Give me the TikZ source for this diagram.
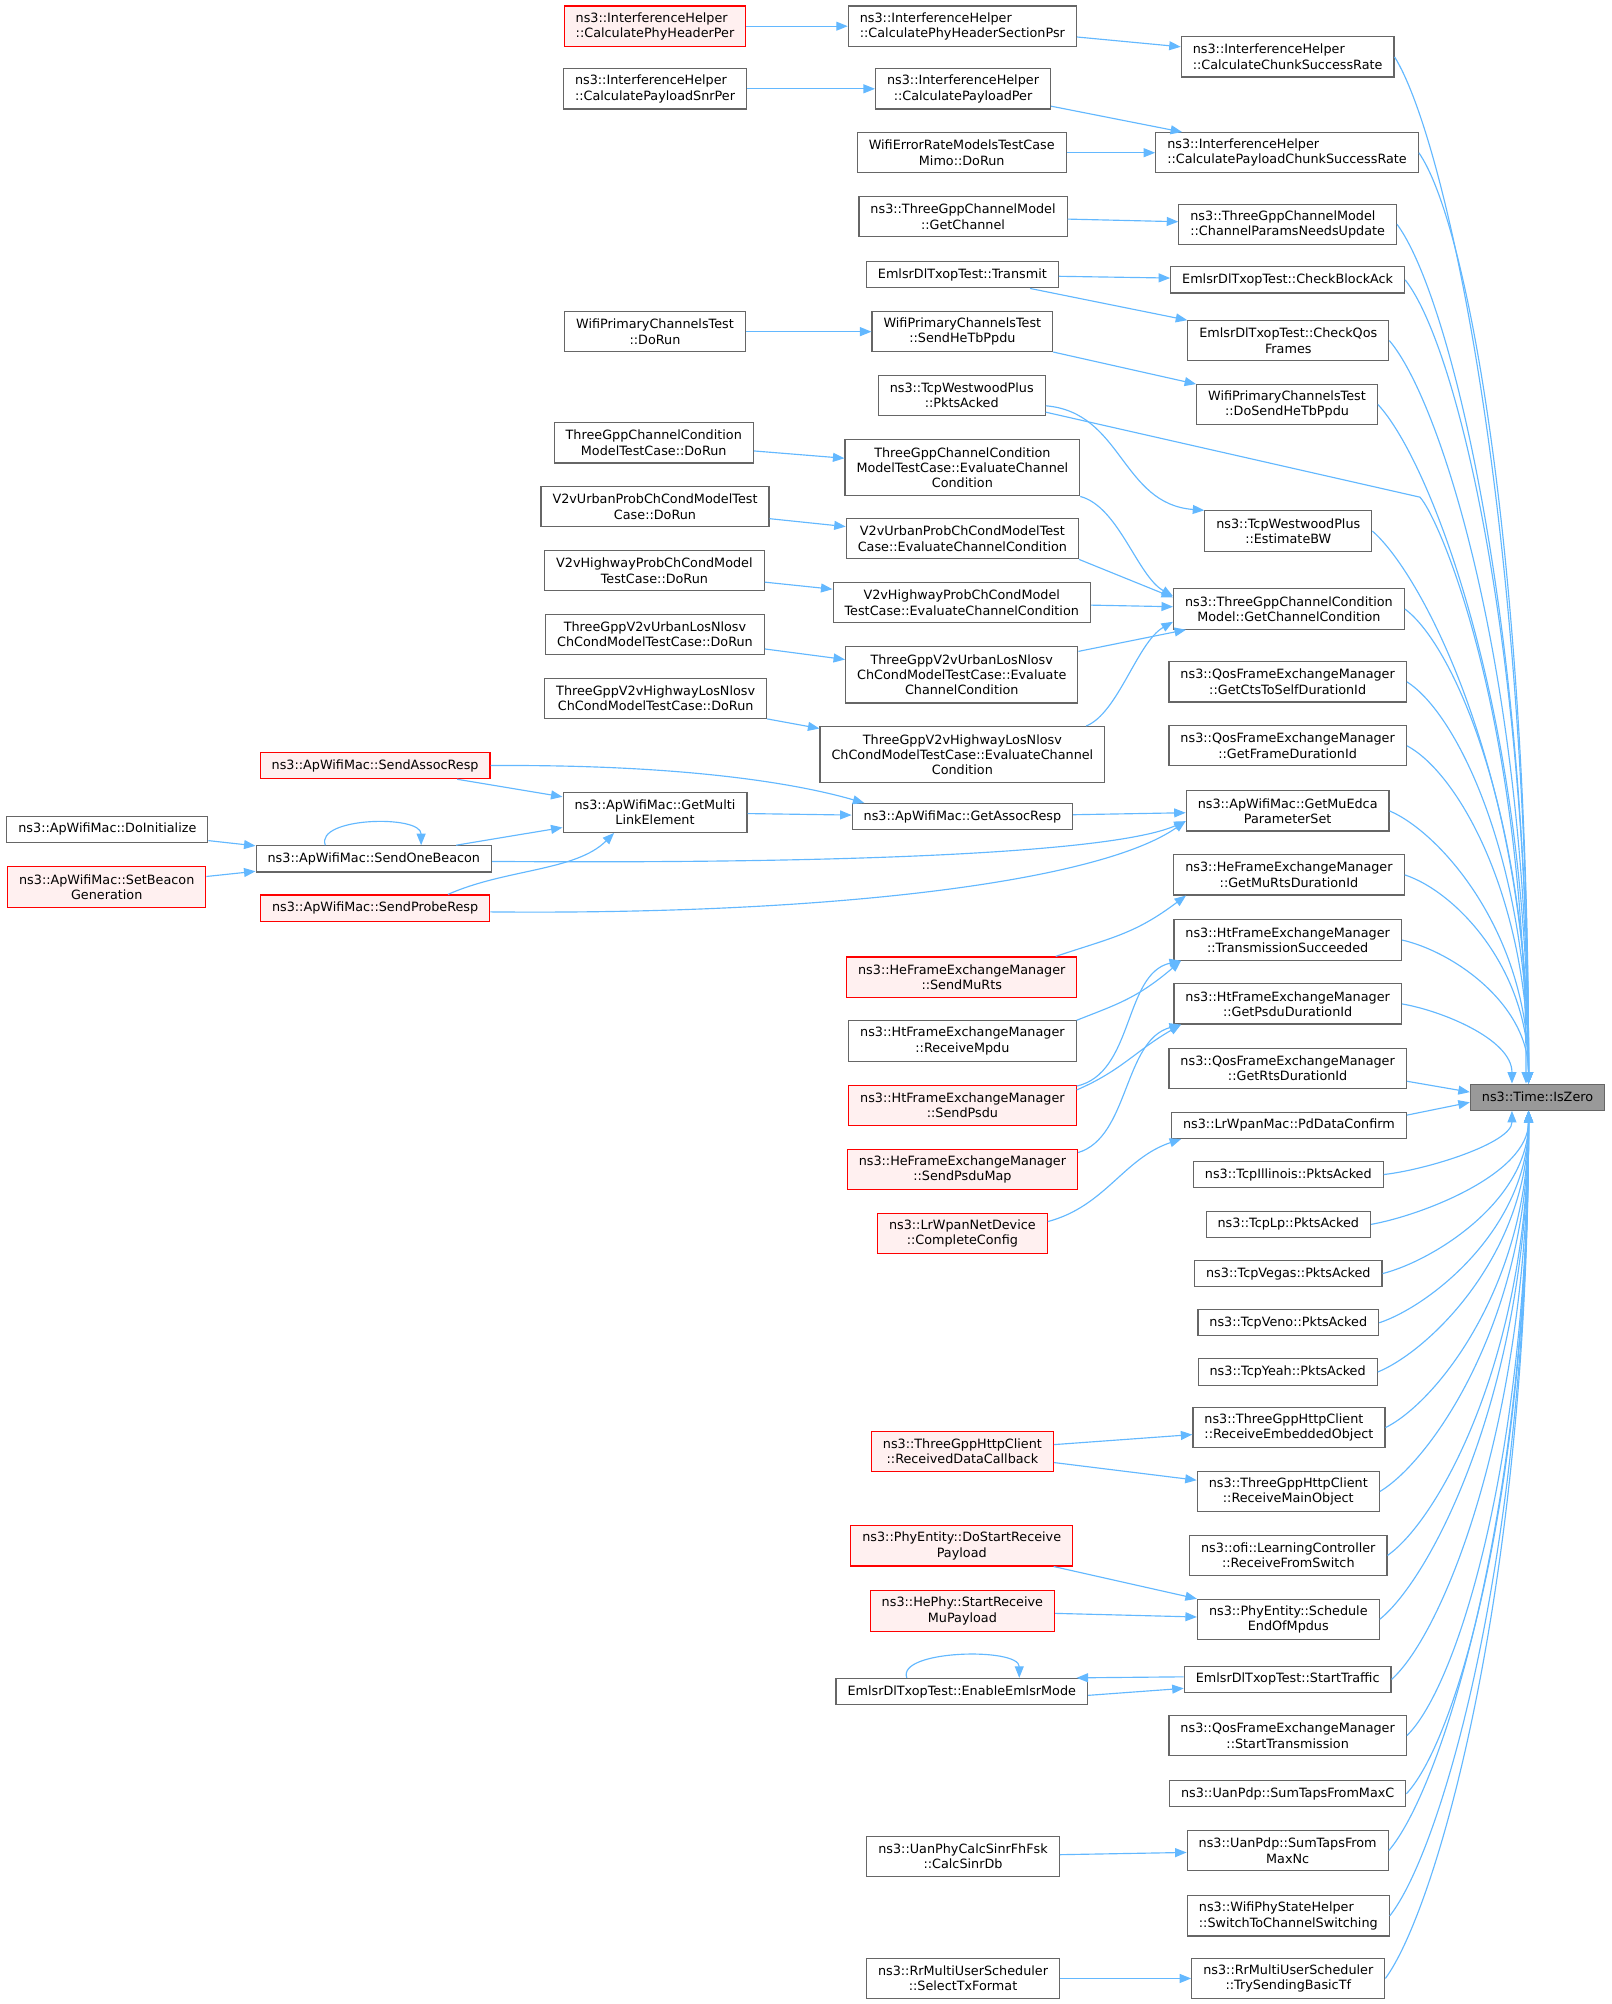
\documentclass[tikz,border=0pt]{standalone}
\usepackage{fontspec}
\setmainfont{DejaVu Sans}
\usetikzlibrary{arrows.meta}

\definecolor{callblue}{HTML}{63B8FF}
\definecolor{framegray}{HTML}{666666}
\definecolor{pinkfill}{HTML}{FFF0F0}
\definecolor{targetgray}{HTML}{999999}

\tikzset{
  fn/.style={draw=framegray,fill=white,line width=0.9pt,inner xsep=9pt,inner ysep=0pt,minimum height=20.5pt,align=center,font=\fontsize{10}{12}\selectfont},
  fnred/.style={fn,draw=red,fill=pinkfill},
  two/.style={minimum height=31.5pt},
  three/.style={minimum height=44pt},
  call/.style={draw=callblue,line width=0.9pt,-{Triangle[length=9pt,width=7pt]}},
}

\begin{document}
\begin{tikzpicture}[x=1pt,y=1pt]
\useasboundingbox (0,0) rectangle (1261,-1568);
\node[fn,fill=targetgray] (isZero) at (1203,-858.5) {ns3::Time::IsZero};

\node[fn,two,align=left] (chunkRate) at (1007.5,-44.5) {ns3::InterferenceHelper\\::CalculateChunkSuccessRate};
\node[fn,two,align=left] (payloadChunk) at (1007,-119.5) {ns3::InterferenceHelper\\::CalculatePayloadChunkSuccessRate};
\node[fn,two,align=left] (paramsUpdate) at (1007.5,-175.5) {ns3::ThreeGppChannelModel\\::ChannelParamsNeedsUpdate};
\node[fn] (checkBlockAck) at (1007.5,-219) {EmlsrDlTxopTest::CheckBlockAck};
\node[fn,two] (checkQos) at (1008,-266.5) {EmlsrDlTxopTest::CheckQos\\Frames};
\node[fn,two] (doSendTb) at (1007,-316.5) {WifiPrimaryChannelsTest\\::DoSendHeTbPpdu};
\node[fn,two] (estimateBw) at (1008,-415.5) {ns3::TcpWestwoodPlus\\::EstimateBW};
\node[fn,two] (getChCond) at (1008.5,-476.5) {ns3::ThreeGppChannelCondition\\Model::GetChannelCondition};
\node[fn,two] (ctsToSelf) at (1007.5,-533.5) {ns3::QosFrameExchangeManager\\::GetCtsToSelfDurationId};
\node[fn,two] (frameDur) at (1007.5,-583.5) {ns3::QosFrameExchangeManager\\::GetFrameDurationId};
\node[fn,two] (muEdca) at (1007.5,-634.5) {ns3::ApWifiMac::GetMuEdca\\ParameterSet};
\node[fn,two] (muRtsDur) at (1008.5,-684.5) {ns3::HeFrameExchangeManager\\::GetMuRtsDurationId};
\node[fn,two] (txSucceeded) at (1007.5,-735.5) {ns3::HtFrameExchangeManager\\::TransmissionSucceeded};
\node[fn,two] (psduDur) at (1007.5,-785.5) {ns3::HtFrameExchangeManager\\::GetPsduDurationId};
\node[fn,two] (rtsDur) at (1007.5,-836) {ns3::QosFrameExchangeManager\\::GetRtsDurationId};
\node[fn] (pdDataConfirm) at (1008.5,-880.5) {ns3::LrWpanMac::PdDataConfirm};
\node[fn] (illinois) at (1008,-919) {ns3::TcpIllinois::PktsAcked};
\node[fn] (tcpLp) at (1008,-958) {ns3::TcpLp::PktsAcked};
\node[fn] (vegas) at (1008,-996.5) {ns3::TcpVegas::PktsAcked};
\node[fn] (veno) at (1008,-1035) {ns3::TcpVeno::PktsAcked};
\node[fn] (yeah) at (1007.5,-1073.5) {ns3::TcpYeah::PktsAcked};
\node[fn,two,align=left] (recvEmbedded) at (1008.5,-1117) {ns3::ThreeGppHttpClient\\::ReceiveEmbeddedObject};
\node[fn,two] (recvMain) at (1008,-1167) {ns3::ThreeGppHttpClient\\::ReceiveMainObject};
\node[fn,two] (recvSwitch) at (1008,-1217) {ns3::ofi::LearningController\\::ReceiveFromSwitch};
\node[fn,two] (endOfMpdus) at (1008,-1267) {ns3::PhyEntity::Schedule\\EndOfMpdus};
\node[fn] (startTraffic) at (1007.5,-1314) {EmlsrDlTxopTest::StartTraffic};
\node[fn,two] (startTx) at (1007.5,-1358) {ns3::QosFrameExchangeManager\\::StartTransmission};
\node[fn] (sumTapsC) at (1007.5,-1403.5) {ns3::UanPdp::SumTapsFromMaxC};
\node[fn,two] (sumTapsNc) at (1007.5,-1448) {ns3::UanPdp::SumTapsFrom\\MaxNc};
\node[fn,two,align=left] (switchChannel) at (1008,-1499) {ns3::WifiPhyStateHelper\\::SwitchToChannelSwitching};
\node[fn,two] (trySendingTf) at (1008,-1548) {ns3::RrMultiUserScheduler\\::TrySendingBasicTf};

\node[fn,two,align=left] (phySectionPsr) at (753,-20.5) {ns3::InterferenceHelper\\::CalculatePhyHeaderSectionPsr};
\node[fn,two] (payloadPer) at (753.5,-69.5) {ns3::InterferenceHelper\\::CalculatePayloadPer};
\node[fn,two] (mimoRun) at (752.5,-119.5) {WifiErrorRateModelsTestCase\\Mimo::DoRun};
\node[fn,two] (getChannel) at (753.5,-169.5) {ns3::ThreeGppChannelModel\\::GetChannel};
\node[fn] (transmit) at (753,-215) {EmlsrDlTxopTest::Transmit};
\node[fn,two] (sendTb) at (753,-259.5) {WifiPrimaryChannelsTest\\::SendHeTbPpdu};
\node[fn,two] (westwoodAcked) at (752.5,-309.5) {ns3::TcpWestwoodPlus\\::PktsAcked};
\node[fn,three] (evalGpp) at (753,-366) {ThreeGppChannelCondition\\ModelTestCase::EvaluateChannel\\Condition};
\node[fn,two] (evalUrban) at (753,-421.5) {V2vUrbanProbChCondModelTest\\Case::EvaluateChannelCondition};
\node[fn,two] (evalHighway) at (752.5,-471.5) {V2vHighwayProbChCondModel\\TestCase::EvaluateChannelCondition};
\node[fn,three] (evalV2vUrban) at (752.5,-528) {ThreeGppV2vUrbanLosNlosv\\ChCondModelTestCase::Evaluate\\ChannelCondition};
\node[fn,three] (evalV2vHighway) at (753,-590.5) {ThreeGppV2vHighwayLosNlosv\\ChCondModelTestCase::EvaluateChannel\\Condition};
\node[fn] (getAssocResp) at (753,-639) {ns3::ApWifiMac::GetAssocResp};
\node[fnred,two] (sendMuRts) at (752.5,-764.5) {ns3::HeFrameExchangeManager\\::SendMuRts};
\node[fn,two] (receiveMpdu) at (753,-814.5) {ns3::HtFrameExchangeManager\\::ReceiveMpdu};
\node[fnred,two] (sendPsdu) at (753,-865) {ns3::HtFrameExchangeManager\\::SendPsdu};
\node[fnred,two] (sendPsduMap) at (753,-915) {ns3::HeFrameExchangeManager\\::SendPsduMap};
\node[fnred,two] (completeConfig) at (753,-965) {ns3::LrWpanNetDevice\\::CompleteConfig};
\node[fnred,two] (recvDataCb) at (753,-1135.5) {ns3::ThreeGppHttpClient\\::ReceivedDataCallback};
\node[fnred,two] (doStartPayload) at (752.5,-1209.5) {ns3::PhyEntity::DoStartReceive\\Payload};
\node[fnred,two] (startMuPayload) at (753,-1260.5) {ns3::HePhy::StartReceive\\MuPayload};
\node[fn] (enableEmlsr) at (752.5,-1323.5) {EmlsrDlTxopTest::EnableEmlsrMode};
\node[fn,two] (calcSinr) at (753.5,-1452.5) {ns3::UanPhyCalcSinrFhFsk\\::CalcSinrDb};
\node[fn,two] (selectTx) at (753.5,-1548) {ns3::RrMultiUserScheduler\\::SelectTxFormat};

\node[fnred,two,align=left] (phyHeaderPer) at (512.5,-20.5) {ns3::InterferenceHelper\\::CalculatePhyHeaderPer};
\node[fn,two,align=left] (payloadSnrPer) at (512.5,-69.5) {ns3::InterferenceHelper\\::CalculatePayloadSnrPer};
\node[fn,two] (primaryRun) at (512.5,-259.5) {WifiPrimaryChannelsTest\\::DoRun};
\node[fn,two] (gppRun) at (511.5,-346.5) {ThreeGppChannelCondition\\ModelTestCase::DoRun};
\node[fn,two] (urbanRun) at (512.5,-396.5) {V2vUrbanProbChCondModelTest\\Case::DoRun};
\node[fn,two] (highwayRun) at (512,-446.5) {V2vHighwayProbChCondModel\\TestCase::DoRun};
\node[fn,two] (v2vUrbanRun) at (512.5,-496.5) {ThreeGppV2vUrbanLosNlosv\\ChCondModelTestCase::DoRun};
\node[fn,two] (v2vHighwayRun) at (513,-546.5) {ThreeGppV2vHighwayLosNlosv\\ChCondModelTestCase::DoRun};
\node[fn,two] (multiLink) at (512.5,-635.5) {ns3::ApWifiMac::GetMulti\\LinkElement};
\node[fnred] (sendAssocResp) at (293.5,-599) {ns3::ApWifiMac::SendAssocResp};
\node[fn] (sendOneBeacon) at (292.5,-672) {ns3::ApWifiMac::SendOneBeacon};
\node[fnred] (sendProbeResp) at (293.5,-710.5) {ns3::ApWifiMac::SendProbeResp};
\node[fn] (doInit) at (84,-649) {ns3::ApWifiMac::DoInitialize};
\node[fnred,two] (setBeacon) at (83.5,-694) {ns3::ApWifiMac::SetBeacon\\Generation};

% straight calls
\foreach \a/\b in {phyHeaderPer/phySectionPsr,phySectionPsr/chunkRate,payloadSnrPer/payloadPer,payloadPer/payloadChunk,mimoRun/payloadChunk,getChannel/paramsUpdate,transmit/checkBlockAck,transmit/checkQos,primaryRun/sendTb,sendTb/doSendTb,gppRun/evalGpp,urbanRun/evalUrban,highwayRun/evalHighway,v2vUrbanRun/evalV2vUrban,v2vHighwayRun/evalV2vHighway,evalHighway/getChCond,evalV2vUrban/getChCond,doInit/sendOneBeacon,setBeacon/sendOneBeacon,sendAssocResp/multiLink,sendOneBeacon/multiLink,multiLink/getAssocResp,getAssocResp/muEdca,recvDataCb/recvEmbedded,recvDataCb/recvMain,doStartPayload/endOfMpdus,startMuPayload/endOfMpdus,calcSinr/sumTapsNc,selectTx/trySendingTf}
  \draw[call] (\a) -- (\b);

% bundle into IsZero
\foreach \n/\d in {chunkRate/804,payloadChunk/729,paramsUpdate/673,checkBlockAck/629,checkQos/582,doSendTb/532,estimateBw/433,getChCond/372,ctsToSelf/315,frameDur/265,muEdca/214,muRtsDur/164,txSucceeded/113}
  \draw[call] (\n.east) .. controls +(40,{-0.08*\d}) and +(0,{0.55*\d}) .. ([xshift=-7pt]isZero.north);
\foreach \n/\d in {tcpLp/90,vegas/128,veno/167,yeah/205,recvEmbedded/249,recvMain/299,recvSwitch/349,endOfMpdus/399,startTraffic/446,startTx/490,sumTapsC/535,sumTapsNc/580,switchChannel/631,trySendingTf/680}
  \draw[call] (\n.east) .. controls +(40,{0.08*\d}) and +(0,{-0.55*\d}) .. ([xshift=-7pt]isZero.south);
\draw[call] (psduDur.east) .. controls +(30,-5) and +(0,35) .. ([xshift=-20pt]isZero.north);
\draw[call] (illinois.east) .. controls +(35,4) and +(0,-25) .. ([xshift=-20pt]isZero.south);
\draw[call] ([yshift=-10pt]rtsDur.east) -- ([yshift=4pt]isZero.west);
\draw[call] ([yshift=8pt]pdDataConfirm.east) -- ([yshift=-4pt]isZero.west);
\draw[call] ([yshift=-13pt]westwoodAcked.east) -- (1111,-389) .. controls (1126,-405) and (1194,-560) .. ([xshift=-9pt]isZero.north);

% curved calls
\draw[call] ([yshift=-8pt]westwoodAcked.east) .. controls +(60,-5) and +(-65,5) .. (estimateBw.north west);
\draw[call] (evalGpp.south east) .. controls +(30,-8) and +(-28,16) .. ([yshift=10pt]getChCond.west);
\draw[call] (evalUrban.south east) -- ([yshift=9pt]getChCond.west);
\draw[call] ([xshift=-15pt]evalV2vHighway.north east) .. controls +(25,10) and +(-28,-16) .. ([yshift=-10pt]getChCond.west);
\draw[call] (sendAssocResp.east) .. controls (530,-598) and (620,-612) .. ([xshift=10pt]getAssocResp.north west);
\draw[call] ([yshift=-2pt]sendOneBeacon.east) .. controls (650,-676) and (870,-668) .. ([yshift=-8pt]muEdca.west);
\draw[call] ([yshift=-3pt]sendProbeResp.east) .. controls (650,-716) and (860,-690) .. ([yshift=-8pt]muEdca.west);
\draw[call] ([xshift=57pt]sendProbeResp.north) .. controls +(45,20) and +(-30,-30) .. ([xshift=-32pt]multiLink.south);
\draw[call] ([xshift=-38pt]sendOneBeacon.north) .. controls +(-8,22) and +(0,24) .. ([xshift=37pt]sendOneBeacon.north);
\draw[call] ([xshift=-17pt]sendMuRts.north east) .. controls +(45,15) and +(-40,-30) .. ([xshift=10pt]muRtsDur.south west);
\draw[call] (receiveMpdu.north east) .. controls +(30,12) and +(-35,-30) .. ([xshift=6pt]txSucceeded.south west);
\draw[call] ([yshift=-1pt]sendPsdu.north east) .. controls +(45,10) and +(-45,-10) .. ([xshift=6pt]txSucceeded.south west);
\draw[call] ([yshift=-4pt]sendPsdu.north east) .. controls +(35,15) and +(-35,-20) .. ([xshift=6pt]psduDur.south west);
\draw[call] ([yshift=-3pt]sendPsduMap.north east) .. controls +(40,12) and +(-45,-12) .. ([xshift=6pt]psduDur.south west);
\draw[call] ([yshift=-7pt]completeConfig.north east) .. controls +(45,12) and +(-45,-15) .. ([xshift=8pt]pdDataConfirm.south west);
\draw[call] ([yshift=2pt]startTraffic.west) -- ([xshift=-9pt]enableEmlsr.north east);
\draw[call] ([yshift=-3pt]enableEmlsr.east) -- ([yshift=-7pt]startTraffic.west);
\draw[call] ([xshift=-43pt]enableEmlsr.north) .. controls +(-8,22) and +(0,24) .. ([xshift=45pt]enableEmlsr.north);
\end{tikzpicture}
\end{document}
